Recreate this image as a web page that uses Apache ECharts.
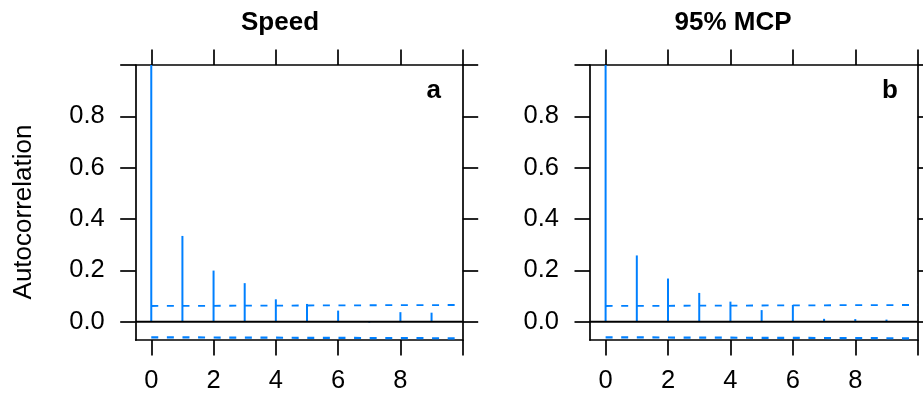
<!DOCTYPE html>
<html>
<head>
<meta charset="utf-8">
<script src="https://cdn.jsdelivr.net/npm/echarts@6/dist/echarts.min.js"></script>
<style>
  html, body { margin: 0; padding: 0; background: #fff; }
  #chart { width: 923px; height: 398px; }
</style>
</head>
<body>
<div id="chart"></div>
<script>
// Autocorrelation by lag for the two movement metrics
const lags = [0, 1, 2, 3, 4, 5, 6, 7, 8, 9];
const speedAcf = [1.0, 0.334, 0.199, 0.150, 0.087, 0.069, 0.043, -0.004, 0.037, 0.035];
const mcpAcf = [1.0, 0.258, 0.168, 0.112, 0.078, 0.045, 0.065, 0.011, 0.010, 0.008];

// Confidence bounds, given at the first and last lag of the axis
const ciLags = [0, 10];
const ciUpper = [0.061, 0.065];
const ciLower = [-0.061, -0.065];

const panelTitles = ['Speed', '95% MCP'];
const panelLetters = ['a', 'b'];
const yTitle = 'Autocorrelation';

const xTicks = [0, 2, 4, 6, 8, 10];
const xTickLabels = [0, 2, 4, 6, 8];
const yTicks = [0, 0.2, 0.4, 0.6, 0.8, 1.0];
const yTickLabels = [0, 0.2, 0.4, 0.6, 0.8];

const FONT = '"Liberation Sans", Arial, Helvetica, sans-serif';
const BLUE = '#0080ff';
const X_MIN = -0.5, X_MAX = 10;
const Y_MIN = -0.0715, Y_MAX = 1.0;

const panels = [
  { acf: speedAcf, left: 135.7, width: 327, titleX: 280, letterX: 433.7 },
  { acf: mcpAcf, left: 590, width: 327.7, titleX: 733, letterX: 890 }
];

const lineStyle = { color: '#000', width: 1.7 };
const tickBase = { show: true, length: 15.5, lineStyle: lineStyle };

const grid = [], xAxis = [], yAxis = [], series = [], title = [];

panels.forEach((p, i) => {
  grid.push({ left: p.left, top: 65, width: p.width, height: 275, containLabel: false });

  // bottom axis with labels, top axis with ticks only
  xAxis.push({
    type: 'value', gridIndex: i, position: 'bottom', min: X_MIN, max: X_MAX,
    axisLine: { show: true, onZero: false, lineStyle: lineStyle },
    axisTick: Object.assign({ customValues: xTicks }, tickBase),
    axisLabel: { customValues: xTickLabels, margin: 28, fontSize: 25.5, fontFamily: FONT, color: '#000' },
    splitLine: { show: false }
  });
  xAxis.push({
    type: 'value', gridIndex: i, position: 'top', min: X_MIN, max: X_MAX,
    axisLine: { show: true, onZero: false, lineStyle: lineStyle },
    axisTick: Object.assign({ customValues: xTicks }, tickBase),
    axisLabel: { show: false },
    splitLine: { show: false }
  });
  // left axis with labels, right axis with ticks only
  yAxis.push({
    type: 'value', gridIndex: i, position: 'left', min: Y_MIN, max: Y_MAX,
    axisLine: { show: true, onZero: false, lineStyle: lineStyle },
    axisTick: Object.assign({ customValues: yTicks }, tickBase),
    axisLabel: {
      customValues: yTickLabels, margin: 31, fontSize: 25.5, fontFamily: FONT, color: '#000',
      formatter: v => Number(v).toFixed(1)
    },
    splitLine: { show: false }
  });
  yAxis.push({
    type: 'value', gridIndex: i, position: 'right', min: Y_MIN, max: Y_MAX,
    axisLine: { show: true, onZero: false, lineStyle: lineStyle },
    axisTick: Object.assign({ customValues: yTicks }, tickBase),
    axisLabel: { show: false },
    splitLine: { show: false }
  });

  const xi = i * 2, yi = i * 2;

  // ACF stems
  series.push({
    type: 'bar', xAxisIndex: xi, yAxisIndex: yi,
    data: lags.map((l, k) => [l, p.acf[k]]),
    barWidth: 2, itemStyle: { color: BLUE }, silent: true
  });
  // zero reference line
  series.push({
    type: 'line', xAxisIndex: xi, yAxisIndex: yi,
    data: [[X_MIN, 0], [X_MAX, 0]], showSymbol: false, symbol: 'none',
    lineStyle: { color: '#000', width: 2 }, silent: true, z: 3
  });
  // confidence bounds
  series.push({
    type: 'line', xAxisIndex: xi, yAxisIndex: yi,
    data: ciLags.map((l, k) => [l, ciUpper[k]]), symbol: 'none',
    lineStyle: { color: BLUE, width: 1.8, type: [7, 8.6] }, silent: true
  });
  series.push({
    type: 'line', xAxisIndex: xi, yAxisIndex: yi,
    data: ciLags.map((l, k) => [l, ciLower[k]]), symbol: 'none',
    lineStyle: { color: BLUE, width: 2.2, type: [7, 8.6] }, silent: true
  });

  title.push({
    text: panelTitles[i], left: p.titleX, top: 9.5, textAlign: 'center', padding: 0,
    textStyle: { fontSize: 26, fontWeight: 'bold', fontFamily: FONT, color: '#000' }
  });
  title.push({
    text: panelLetters[i], left: p.letterX, top: 78, textAlign: 'center', padding: 0,
    textStyle: { fontSize: 26, fontWeight: 'bold', fontFamily: FONT, color: '#000' }
  });
});

const chart = echarts.init(document.getElementById('chart'), null, { renderer: 'canvas' });
chart.setOption({
  animation: false,
  backgroundColor: '#fff',
  title: title,
  grid: grid,
  xAxis: xAxis,
  yAxis: yAxis,
  series: series,
  graphic: [{
    type: 'text', x: 24, y: 212, rotation: Math.PI / 2,
    style: {
      text: yTitle, fontSize: 26, fontFamily: FONT, fill: '#000',
      align: 'center', verticalAlign: 'middle'
    }
  }]
});
</script>
</body>
</html>
